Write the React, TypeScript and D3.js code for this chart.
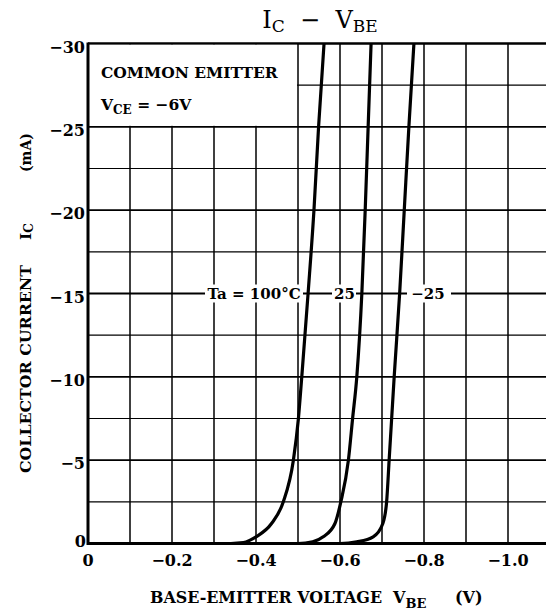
import React from "react";
import * as d3 from "d3";

const xTicks = [0, -0.2, -0.4, -0.6, -0.8, -1.0];
const xTickLabels = ["0", "\u22120.2", "\u22120.4", "\u22120.6", "\u22120.8", "\u22121.0"];
const yTicks = [0, -5, -10, -15, -20, -25, -30];
const yTickLabels = ["0", "\u22125", "\u221210", "\u221215", "\u221220", "\u221225", "\u221230"];
const vGrid = [-0.1, -0.2, -0.3, -0.4, -0.5, -0.6, -0.7, -0.8, -0.9, -1.0, -1.1];
const hMajor = [-5, -10, -15, -20, -25, -30];
const hMinor = [-2.5, -7.5, -12.5, -17.5, -22.5, -27.5];

const seriesNames = ["Ta = 100\u00B0C", "25", "\u221225"];
const vbe100 = [0, -0.34, -0.37, -0.386, -0.4, -0.437, -0.465, -0.489, -0.501, -0.509, -0.524, -0.538, -0.549, -0.562];
const ic100 = [0, 0, -0.05, -0.2, -0.4, -1.2, -2.5, -5, -7.5, -10, -15, -20, -25, -30];
const vbe25 = [0, -0.5, -0.535, -0.56, -0.588, -0.602, -0.62, -0.63, -0.64, -0.652, -0.66, -0.667, -0.674];
const ic25 = [0, 0, -0.1, -0.4, -1.2, -2.5, -5, -7.5, -10, -15, -20, -25, -30];
const vbeM25 = [0, -0.6, -0.64, -0.679, -0.702, -0.711, -0.717, -0.723, -0.729, -0.742, -0.753, -0.764, -0.776];
const icM25 = [0, 0, -0.1, -0.4, -1.2, -2.5, -5, -7.5, -10, -15, -20, -25, -30];

const W = 546;
const H = 615;
const FONT = "'DejaVu Serif', serif";
const PRE: React.CSSProperties = { whiteSpace: "pre" };

export default function App() {
  const x = d3.scaleLinear().domain([0, -1]).range([88, 508]);
  const y = d3.scaleLinear().domain([0, -30]).range([543.5, 43.5]);
  const right = W;
  const line = d3
    .line<[number, number]>()
    .x((d) => x(d[0]))
    .y((d) => y(d[1]))
    .curve(d3.curveMonotoneX);
  const series = [
    vbe100.map((v, i) => [v, ic100[i]] as [number, number]),
    vbe25.map((v, i) => [v, ic25[i]] as [number, number]),
    vbeM25.map((v, i) => [v, icM25[i]] as [number, number]),
  ];
  const labelY = y(-15);
  const labelBoxes = [
    { x0: 205, x1: 303, tx: 254 },
    { x0: 332, x1: 356, tx: 344.5 },
    { x0: 407, x1: 451, tx: 428 },
  ];
  const bold = { fontFamily: FONT, fontWeight: "bold" as const, fill: "#000" };

  return (
    <svg
      width={W}
      height={H}
      viewBox={`0 0 ${W} ${H}`}
      style={{ position: "absolute", left: 0, top: 0, background: "#fff" }}
    >
      <rect x={0} y={0} width={W} height={H} fill="#fff" />
      {hMinor.map((v) => (
        <line key={"hm" + v} x1={x(0)} x2={right} y1={y(v)} y2={y(v)} stroke="#000" strokeWidth={1.1} />
      ))}
      {hMajor.map((v) => (
        <line key={"hM" + v} x1={x(0)} x2={right} y1={y(v)} y2={y(v)} stroke="#000" strokeWidth={1.8} />
      ))}
      {vGrid.map((v) => (
        <line key={"v" + v} x1={x(v)} x2={x(v)} y1={y(-30)} y2={y(0)} stroke="#000" strokeWidth={1.5} />
      ))}
      <rect x={x(0) + 1} y={y(-30) + 1} width={x(-0.5) - x(0) - 2} height={y(-25) - y(-30) - 2} fill="#fff" />
      <text x={101} y={78} {...bold} fontSize={15.5} style={PRE}>
        COMMON EMITTER
      </text>
      <text x={101} y={110} {...bold} fontSize={15.5} style={PRE}>
        V
        <tspan fontSize={12} dy={4}>CE</tspan>
        <tspan dy={-4}>{" = \u22126V"}</tspan>
      </text>
      {labelBoxes.map((b, i) => (
        <g key={"lb" + i}>
          <rect x={b.x0} y={labelY - 9} width={b.x1 - b.x0} height={18} fill="#fff" />
          <text x={b.tx} y={labelY + 5.5} textAnchor="middle" {...bold} fontSize={15}>
            {seriesNames[i]}
          </text>
        </g>
      ))}
      <line x1={x(0)} x2={right} y1={y(-30)} y2={y(-30)} stroke="#000" strokeWidth={2.2} />
      <line x1={x(0)} x2={x(0)} y1={y(-30) - 1} y2={y(0) + 1.5} stroke="#000" strokeWidth={3} />
      <line x1={x(0)} x2={right} y1={y(0)} y2={y(0)} stroke="#000" strokeWidth={3} />
      {series.map((s, i) => (
        <path key={"s" + i} d={line(s) || ""} fill="none" stroke="#000" strokeWidth={3.2} strokeLinejoin="round" />
      ))}
      {yTicks.map((v, i) => (
        <text
          key={"yt" + v}
          x={v === 0 ? 86 : 85}
          y={v === 0 ? y(v) + 3 : y(v) + 9}
          textAnchor="end"
          {...bold}
          fontSize={16}
        >
          {yTickLabels[i]}
        </text>
      ))}
      {xTicks.map((v, i) => (
        <text key={"xt" + v} x={x(v)} y={566} textAnchor="middle" {...bold} fontSize={16}>
          {xTickLabels[i]}
        </text>
      ))}
      <text x={320} y={28} textAnchor="middle" fontFamily={FONT} fontSize={24} fill="#000" style={PRE}>
        I<tspan fontSize={17} dy={4}>C</tspan>
        <tspan dy={-4}>{"  \u2212  V"}</tspan>
        <tspan fontSize={17} dy={4}>BE</tspan>
      </text>
      {/* x axis title */}
      <text x={150} y={603} {...bold} fontSize={16} textLength={232} lengthAdjust="spacingAndGlyphs">
        BASE-EMITTER VOLTAGE
      </text>
      <text x={393} y={603} {...bold} fontSize={16}>
        V<tspan fontSize={13} dy={5}>BE</tspan>
      </text>
      <text x={455} y={603} {...bold} fontSize={16}>
        (V)
      </text>
      {/* y axis title */}
      <g transform="translate(31, 0) rotate(-90)">
        <text x={-473} y={0} {...bold} fontSize={15.5} textLength={208} lengthAdjust="spacingAndGlyphs">
          COLLECTOR CURRENT
        </text>
        <text x={-240} y={0} {...bold} fontSize={15.5}>
          I<tspan fontSize={12} dy={2}>C</tspan>
        </text>
        <text x={-172} y={0} {...bold} fontSize={14}>
          (mA)
        </text>
      </g>
    </svg>
  );
}
